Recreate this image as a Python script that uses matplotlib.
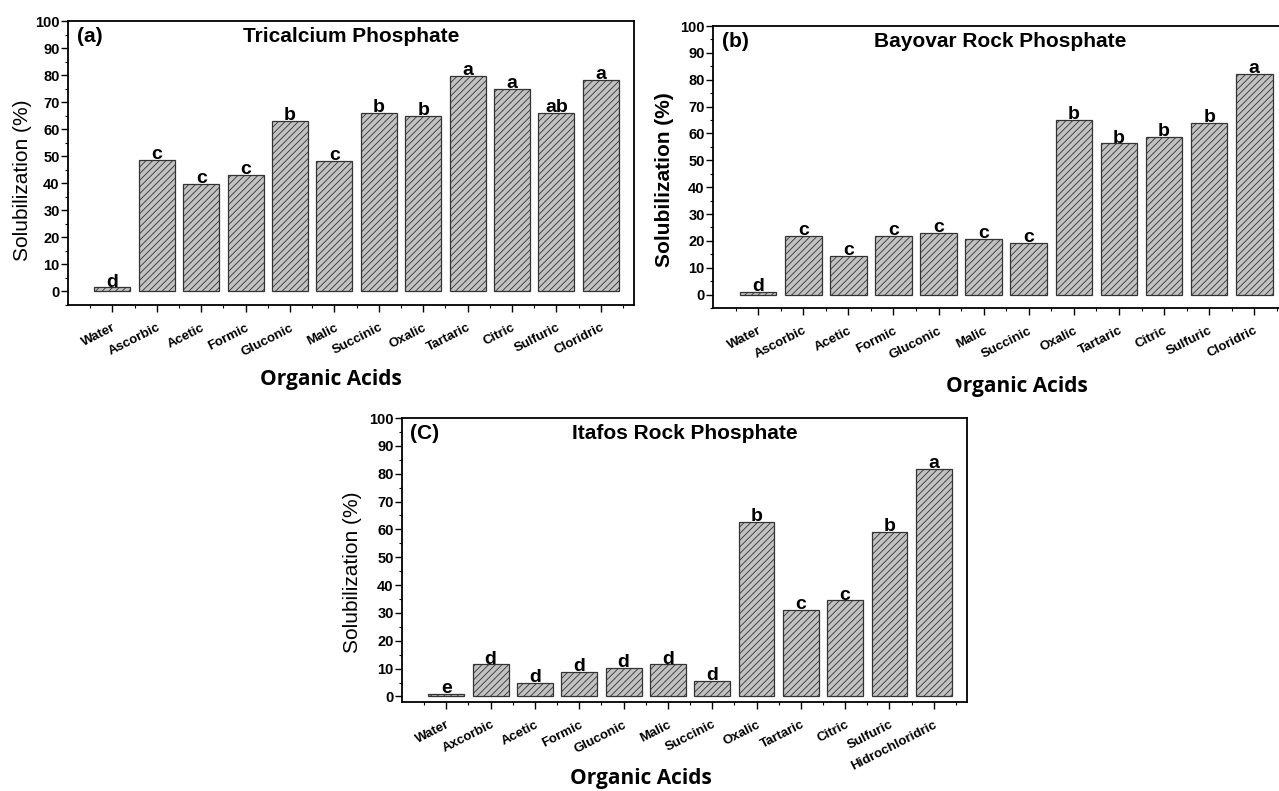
import numpy as np
import matplotlib.pyplot as plt
from matplotlib.ticker import MultipleLocator

plt.rcParams['hatch.linewidth'] = 0.6
plt.rcParams['font.family'] = ['Liberation Sans', 'DejaVu Sans']

acids_ab = ['Water', 'Ascorbic', 'Acetic', 'Formic', 'Gluconic', 'Malic',
            'Succinic', 'Oxalic', 'Tartaric', 'Citric', 'Sulfuric', 'Cloridric']
acids_c = ['Water', 'Axcorbic', 'Acetic', 'Formic', 'Gluconic', 'Malic',
           'Succinic', 'Oxalic', 'Tartaric', 'Citric', 'Sulfuric', 'Hidrochloridric']

tricalcium = [1.5, 48.8, 39.8, 43.0, 63.0, 48.2, 66.0, 65.0, 79.8, 75.0, 66.0, 78.2]
tricalcium_letters = ['d', 'c', 'c', 'c', 'b', 'c', 'b', 'b', 'a', 'a', 'ab', 'a']

bayovar = [1.0, 21.8, 14.5, 21.8, 23.0, 20.8, 19.2, 65.0, 56.3, 58.7, 63.8, 82.3]
bayovar_letters = ['d', 'c', 'c', 'c', 'c', 'c', 'c', 'b', 'b', 'b', 'b', 'a']

itafos = [1.0, 11.5, 5.0, 8.7, 10.2, 11.5, 5.6, 62.6, 31.0, 34.5, 59.0, 81.7]
itafos_letters = ['e', 'd', 'd', 'd', 'd', 'd', 'd', 'b', 'c', 'c', 'b', 'a']


def panel(ax, labels, values, letters, tag, title, ybottom, ylab_pos, ylab_weight, xlab_pos):
    x = np.arange(len(labels))
    ax.bar(x, values, width=0.81, color='#c2c2c2', edgecolor='#333333',
           hatch='/////', linewidth=0.9)
    for xi, v, s in zip(x, values, letters):
        ax.text(xi, v + 0.3, s, ha='center', va='baseline', fontsize=14,
                fontweight='bold')
    ax.set_xlim(-1, len(labels) - 0.25)
    ax.set_ylim(ybottom, 100)
    ax.yaxis.set_major_locator(MultipleLocator(10))
    ax.yaxis.set_minor_locator(MultipleLocator(5))
    ax.set_xticks(x)
    ax.set_xticks(np.arange(-0.5, len(labels), 1), minor=True)
    ax.set_xticklabels(labels, rotation=27, ha='right', rotation_mode='anchor',
                       fontsize=9.5, fontweight='bold')
    for t in ax.get_yticklabels():
        t.set_fontsize(10.5)
        t.set_fontweight('bold')
    ax.tick_params(axis='both', which='major', direction='out', length=5, width=1)
    ax.tick_params(axis='both', which='minor', direction='out', length=2.5, width=0.8)
    ax.tick_params(axis='y', pad=1)
    ax.tick_params(axis='x', pad=7)
    for sp in ax.spines.values():
        sp.set_linewidth(1.3)
    ax.text(ylab_pos[0], ylab_pos[1], 'Solubilization (%)', transform=ax.transAxes,
            rotation=90, ha='center', va='center', fontsize=15, fontweight=ylab_weight)
    ax.text(xlab_pos[0], xlab_pos[1], 'Organic Acids', transform=ax.transAxes,
            ha='center', va='center', fontsize=15, fontweight='bold', family='Open Sans')
    ax.text(0.015, 0.945, tag, transform=ax.transAxes, ha='left', va='center',
            fontsize=15, fontweight='bold')
    ax.text(0.5, 0.945, title, transform=ax.transAxes, ha='center', va='center',
            fontsize=15, fontweight='bold')


fig = plt.figure(figsize=(12.79, 7.91), dpi=100)
ax1 = fig.add_axes([0.0532, 0.6144, 0.4425, 0.3590])
ax2 = fig.add_axes([0.5575, 0.6106, 0.4496, 0.3565])
ax3 = fig.add_axes([0.3143, 0.1125, 0.4418, 0.3590])

panel(ax1, acids_ab, tricalcium, tricalcium_letters, '(a)', 'Tricalcium Phosphate',
      -5, (-0.081, 0.44), 'normal', (0.465, -0.264))
panel(ax2, acids_ab, bayovar, bayovar_letters, '(b)', 'Bayovar Rock Phosphate',
      -5, (-0.085, 0.457), 'bold', (0.529, -0.280))
panel(ax3, acids_c, itafos, itafos_letters, '(C)', 'Itafos Rock Phosphate',
      -2, (-0.088, 0.458), 'normal', (0.423, -0.268))

fig.savefig('out.png', dpi=100)
